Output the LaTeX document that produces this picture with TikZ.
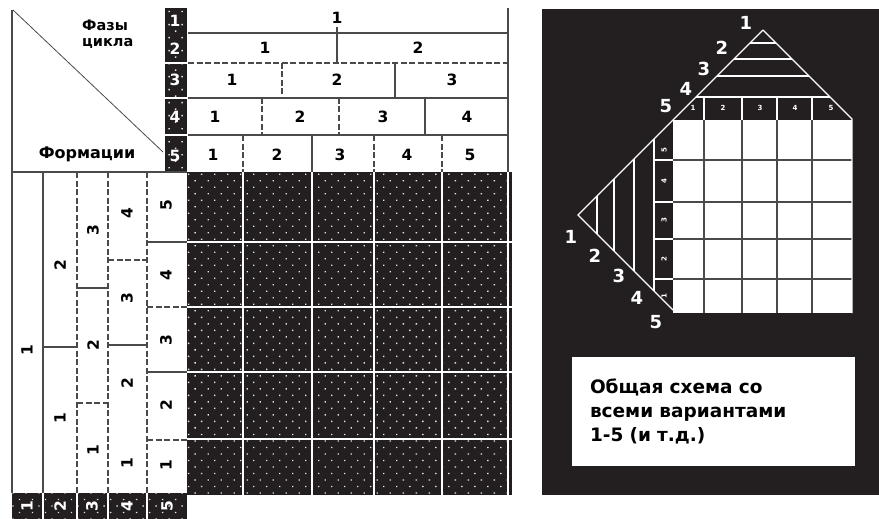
\documentclass[tikz,border=0pt]{standalone}
\usepackage{fontspec}
\setmainfont{DejaVu Sans}
\usepackage{xcolor}
\definecolor{cDark}{HTML}{231F20}
\definecolor{cLine}{HTML}{4A4A4A}
\definecolor{cDot}{HTML}{E6E6E6}
\usepackage{tikz}
\usetikzlibrary{patterns.meta}
\tikzset{
  cell-dark/.style={fill=cDark,postaction={pattern={Dots[distance=9.2pt,radius=0.95pt,angle=45]},pattern color=cDot}},
  rule-line/.style={draw=cLine,line width=1.1pt},
  rule-dash/.style={draw=cLine,line width=1.1pt,dash pattern=on 6pt off 2.5pt},
  rule-white/.style={draw=white,line width=1.2pt},
  rule-grid/.style={draw=cLine,line width=1.3pt},
  num-label/.style={font=\fontsize{15.5}{15.5}\selectfont\bfseries,inner sep=0pt},
  num-side/.style={num-label,rotate=90},
  num-inv/.style={num-label,text=white},
  num-inv-side/.style={num-inv,rotate=90},
  num-big/.style={font=\fontsize{18}{18}\selectfont\bfseries,text=white,inner sep=0pt},
  num-tiny/.style={font=\fontsize{7}{7}\selectfont\bfseries,text=white,inner sep=0pt},
  head-label/.style={font=\fontsize{14.5}{16}\selectfont\bfseries,inner sep=0pt,align=left},
  note-box/.style={fill=white,minimum width=283pt,minimum height=109pt,text width=247pt,
    inner xsep=18pt,align=left,font=\fontsize{18.5}{24}\selectfont\bfseries},
}
\begin{document}
\begin{tikzpicture}[x=1pt,y=-1pt]
  \useasboundingbox (0,0) rectangle (879,519);
  % dotted field with its white grid
  \path[cell-dark] (187,172) rectangle (512,495);
  \foreach \x in {243,312,374,442,508} \draw[rule-white] (\x,172) -- (\x,495);
  \foreach \y in {242,307,372,439} \draw[rule-white] (187,\y) -- (512,\y);
  % numbered strips
  \path[cell-dark] (165,8) rectangle (187,172);
  \foreach \y in {63,98,135} \draw[rule-white] (165,\y) -- (187,\y);
  \foreach \t/\y in {1/21,2/49,3/80,4/117,5/156} \node[num-inv] (row-\t) at (175,\y) {\t};
  \path[cell-dark] (12,493) rectangle (187,519);
  \foreach \x in {43,77,108,147} \draw[rule-white] (\x,493) -- (\x,519);
  \foreach \t/\x in {1/27,2/60,3/92,4/127,5/167} \node[num-inv-side] (col-\t) at (\x,506) {\t};
  % corner box
  \draw[rule-line] (12,10) -- (12,493);
  \draw[rule-line] (12,172) -- (187,172);
  \draw[draw=cLine,line width=0.8pt] (13,10) -- (163,152);
  \node[head-label,anchor=west] (phases) at (82,34) {Фазы\\цикла};
  \node[head-label,font=\fontsize{16}{16}\selectfont\bfseries] (forms) at (87,154) {Формации};
  % phases of the cycle
  \draw[rule-line] (508,8) -- (508,172);
  \draw[rule-line] (188,33) -- (508,33);
  \draw[rule-dash] (188,63) -- (508,63);
  \draw[rule-line] (188,98) -- (508,98);
  \draw[rule-line] (188,135) -- (508,135);
  \draw[rule-line] (337,27) -- (337,63);
  \draw[rule-dash] (282,63) -- (282,98);
  \draw[rule-line] (395,63) -- (395,98);
  \draw[rule-dash] (262,98) -- (262,135);
  \draw[rule-dash] (339,98) -- (339,135);
  \draw[rule-line] (425,98) -- (425,135);
  \draw[rule-dash] (243,135) -- (243,172);
  \draw[rule-line] (312,135) -- (312,172);
  \draw[rule-dash] (374,135) -- (374,172);
  \draw[rule-dash] (442,135) -- (442,172);
  \node[num-label] (ph-a1) at (337,18) {1};
  \foreach \t/\x in {1/265,2/418} \node[num-label] (ph-b\t) at (\x,48) {\t};
  \foreach \t/\x in {1/232,2/337,3/452} \node[num-label] (ph-c\t) at (\x,80) {\t};
  \foreach \t/\x in {1/215,2/300,3/383,4/467} \node[num-label] (ph-d\t) at (\x,117) {\t};
  \foreach \t/\x in {1/213,2/277,3/340,4/407,5/470} \node[num-label] (ph-e\t) at (\x,155) {\t};
  % formations
  \draw[rule-line] (43,172) -- (43,493);
  \draw[rule-dash] (77,172) -- (77,493);
  \draw[rule-dash] (108,172) -- (108,493);
  \draw[rule-dash] (147,172) -- (147,493);
  \draw[rule-line] (43,347) -- (77,347);
  \draw[rule-line] (77,288) -- (108,288);
  \draw[rule-dash] (77,403) -- (108,403);
  \draw[rule-dash] (108,260) -- (147,260);
  \draw[rule-line] (108,345) -- (147,345);
  \draw[rule-line] (147,242) -- (187,242);
  \draw[rule-dash] (147,307) -- (187,307);
  \draw[rule-line] (147,372) -- (187,372);
  \draw[rule-dash] (147,440) -- (187,440);
  \node[num-side] (fm-a1) at (27,350) {1};
  \foreach \t/\y in {2/265,1/418} \node[num-side] (fm-b\t) at (60,\y) {\t};
  \foreach \t/\y in {3/230,2/345,1/450} \node[num-side] (fm-c\t) at (93,\y) {\t};
  \foreach \t/\y in {4/213,3/298,2/383,1/463} \node[num-side] (fm-d\t) at (127,\y) {\t};
  \foreach \t/\y in {5/205,4/275,3/340,2/405,1/465} \node[num-side] (fm-e\t) at (166,\y) {\t};
  % general scheme
  \path[fill=cDark] (542,9) rectangle (879,495);
  \path[fill=white] (673,120) rectangle (852,313);
  \foreach \x in {704,742,777,812} \draw[rule-grid] (\x,120) -- (\x,313);
  \foreach \y in {160,202,239,279} \draw[rule-grid] (673,\y) -- (852,\y);
  \draw[rule-white] (763,30) -- (578,215) -- (673,310);
  \draw[rule-white] (763,30) -- (852,119) -- (852,313);
  \foreach \y in {43,59,76,97} \draw[rule-white] ({763-(\y-30)},\y) -- ({763+(\y-30)},\y);
  \foreach \x in {704,742,777,812} \draw[rule-white] (\x,97) -- (\x,120);
  \foreach \x in {597,614,634,654} \draw[rule-white] (\x,{215-(\x-578)}) -- (\x,{215+(\x-578)});
  \foreach \y in {160,202,239,279} \draw[rule-white] (654,\y) -- (673,\y);
  \foreach \t/\x in {1/693,2/723,3/760,4/795,5/831} \node[num-tiny] (hd-\t) at (\x,108) {\t};
  \foreach \t/\y in {5/150,4/181,3/220,2/259,1/296} \node[num-tiny,rotate=90] (sd-\t) at (664,\y) {\t};
  \foreach \t/\x/\y in {1/746/23,2/722/48,3/704/69,4/686/89,5/666/106} \node[num-big] (up-\t) at (\x,\y) {\t};
  \foreach \t/\x/\y in {1/571/237,2/595/256,3/619/276,4/637/298,5/656/322} \node[num-big] (lo-\t) at (\x,\y) {\t};
  \node[note-box] (note) at (713.5,411.5) {Общая схема со\\всеми вариантами\\1-5 (и т.д.)};
\end{tikzpicture}
\end{document}
